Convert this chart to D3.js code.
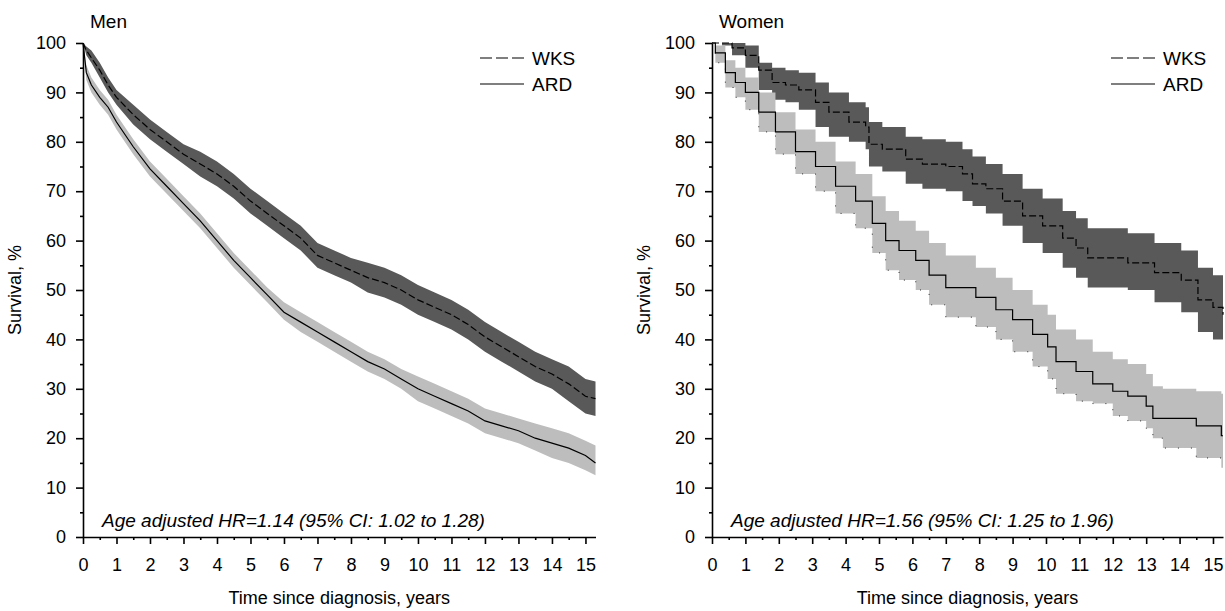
<!DOCTYPE html>
<html>
<head>
<meta charset="utf-8">
<script src="https://cdn.jsdelivr.net/npm/d3@7"></script>
<style>
  html, body { margin: 0; padding: 0; background: #fff; }
  svg text { font-family: "Liberation Sans", Arial, sans-serif; fill: #000; }
</style>
</head>
<body>
<svg id="chart" width="1225" height="611"></svg>
<script>
// Men: common time grid (years)
const menT = [0, 0.1, 0.25, 0.5, 0.75, 1, 1.5, 2, 2.5, 3, 3.5, 4, 4.5, 5, 5.5, 6, 6.5, 7, 7.5, 8, 8.5, 9, 9.5, 10, 10.5, 11, 11.5, 12, 12.5, 13, 13.5, 14, 14.5, 15, 15.3];
const menWks   = [100, 98.5, 97, 94.5, 91.5, 89, 85.5, 82.5, 80, 77.5, 75.5, 73.5, 71, 68, 65.5, 63, 60.5, 57, 55.5, 54, 52.5, 51.5, 50, 48, 46.5, 45, 43, 40.5, 38.5, 36.5, 34.5, 33, 31, 28.5, 28];
const menWksLo = [100, 97.5, 96, 93, 90, 87.5, 83.5, 80.5, 78, 75.5, 73, 71, 68.5, 65.5, 63, 60.5, 58, 54.5, 53, 51.5, 49.5, 48.5, 47, 45, 43.5, 42, 40, 37.5, 35.5, 33.5, 31.5, 30, 27.5, 25, 24.5];
const menWksHi = [100, 99.3, 98.5, 96, 93, 90.5, 87.5, 84.5, 82, 79.5, 78, 76, 73.5, 70.5, 68, 65.5, 63, 59.5, 58, 56.5, 55.5, 54.5, 53, 51, 49.5, 48, 46, 43.5, 41.5, 39.5, 37.5, 36, 34.5, 32, 31.5];
const menArd   = [100, 94, 91.5, 89, 87, 84, 79, 74.5, 71, 67.5, 64, 60, 56, 52.5, 49, 45.5, 43.5, 41.5, 39.5, 37.5, 35.5, 34, 32, 30, 28.5, 27, 25.5, 23.5, 22.5, 21.5, 20, 19, 18, 16.5, 15];
const menArdLo = [100, 92.5, 90, 87.5, 85.5, 82.5, 77.5, 73, 69.5, 66, 62.5, 58.5, 54.5, 51, 47.5, 44, 41.5, 39.5, 37.5, 35.5, 33.5, 32, 30, 27.5, 26, 24.5, 23, 21, 20, 19, 17.5, 16, 15, 13.5, 12.5];
const menArdHi = [100, 95.5, 93, 90.5, 88.5, 85.5, 80.5, 76, 72.5, 69, 65.5, 61.5, 57.5, 54, 50.5, 47.5, 45.5, 43.5, 41.5, 39.5, 37.5, 36, 34, 32.5, 31, 29.5, 28, 26, 25, 24, 23, 22, 21, 19.5, 18.5];

// Women: event times differ per group
const womWksT  = [0, 0.3, 0.6, 1, 1.4, 1.8, 2.2, 2.6, 3.1, 3.5, 4.1, 4.6, 4.7, 5.1, 5.8, 6.3, 7, 7.5, 7.8, 8.2, 8.7, 9.3, 9.9, 10.5, 10.9, 11.25, 12.45, 13.25, 14.05, 14.55, 15, 15.3];
const womWks   = [100, 100, 99, 97.5, 94.5, 92, 91.5, 90.5, 88, 86, 84, 83, 79.5, 78.5, 76.5, 75.5, 75, 73.5, 71.5, 70.5, 68, 65, 63, 60.5, 58.5, 56.5, 55.5, 53.5, 52, 48, 46.5, 45];
const womWksLo = [100, 99.5, 97.5, 95, 90.5, 88.5, 88, 86.5, 83, 81, 80, 78.5, 75, 74, 71.5, 70.5, 70, 68, 67, 65.5, 63, 59.5, 57.5, 54.5, 52.5, 50.5, 50, 47.5, 45.5, 41.5, 40, 38];
const womWksHi = [100, 100, 100, 99.5, 96, 95, 94.5, 94, 92, 90, 88, 87, 84, 83, 81, 80.5, 80, 78.5, 77, 75.5, 73.5, 70.5, 68.5, 66, 64.5, 62.5, 61.5, 59.5, 58, 54.5, 53, 52];
const womArdT  = [0, 0.1, 0.4, 0.7, 1, 1.4, 1.9, 2.5, 3.1, 3.7, 4.3, 4.8, 5.2, 5.6, 6.1, 6.5, 7, 7.9, 8.5, 9, 9.6, 10.05, 10.3, 10.9, 11.4, 12, 12.45, 13, 13.2, 13.5, 14.5, 15.25, 15.3];
const womArd   = [100, 98, 94, 92, 90, 86, 82, 78, 75, 71, 68, 63.5, 60, 58, 56, 53, 50.5, 48.5, 46, 44, 41, 38.5, 35.5, 33.5, 31, 29.5, 28.5, 26.5, 24, 24, 22.5, 20.5, 20.5];
const womArdLo = [100, 96, 91, 89, 86.5, 82, 77.5, 73.5, 70, 65.5, 62.5, 57.5, 54, 52, 50, 47, 44.5, 42.5, 40, 37.5, 34.5, 32, 29, 27.5, 27, 24.5, 23.5, 22, 20, 18, 16, 14, 14];
const womArdHi = [100, 99.5, 96.5, 95, 93, 90, 86, 82.5, 80, 76, 73.5, 69, 66, 64, 62, 59.5, 57, 54.5, 52.5, 50, 47, 45, 42, 40, 37.5, 36, 35, 33, 30.5, 30, 29.5, 29, 29];

const yTicks = [0, 10, 20, 30, 40, 50, 60, 70, 80, 90, 100];
const xTicks = [0, 1, 2, 3, 4, 5, 6, 7, 8, 9, 10, 11, 12, 13, 14, 15];

const zip = (t, s, lo, hi) => t.map((d, i) => ({ t: d, s: s[i], lo: lo[i], hi: hi[i] }));

const panels = [
  {
    title: "Men", left: 83, right: 595.5,
    wks: zip(menT, menWks, menWksLo, menWksHi),
    ard: zip(menT, menArd, menArdLo, menArdHi),
    curve: d3.curveLinear, dots: false,
    hr: "Age adjusted HR=1.14 (95% CI: 1.02 to 1.28)",
    legendX: 480
  },
  {
    title: "Women", left: 712, right: 1223,
    wks: zip(womWksT, womWks, womWksLo, womWksHi),
    ard: zip(womArdT, womArd, womArdLo, womArdHi),
    curve: d3.curveStepAfter, dots: true,
    hr: "Age adjusted HR=1.56 (95% CI: 1.25 to 1.96)",
    legendX: 1111
  }
];

const svg = d3.select("#chart");
const yTop = 43, yBottom = 537;
const fs = "18px", fsBig = "19px";

panels.forEach(p => {
  const x = d3.scaleLinear().domain([0, 15.3]).range([p.left, p.right]);
  const y = d3.scaleLinear().domain([0, 100]).range([yBottom, yTop]);
  const g = svg.append("g");

  const area = d3.area().curve(p.curve)
    .x(d => x(d.t)).y0(d => y(d.lo)).y1(d => y(d.hi));
  const line = d3.line().curve(p.curve)
    .x(d => x(d.t)).y(d => y(d.s));

  g.append("path").datum(p.wks).attr("d", area).attr("fill", "#595959");
  g.append("path").datum(p.ard).attr("d", area).attr("fill", "#bdbdbd");

  if (p.dots) {
    g.append("path").datum(p.ard)
      .attr("d", d3.line().curve(p.curve).x(d => x(d.t)).y(d => y(d.lo)))
      .attr("fill", "none").attr("stroke", "#000").attr("stroke-width", 0.8)
      .attr("stroke-dasharray", "1,12");
  }

  g.append("path").datum(p.wks).attr("d", line)
    .attr("fill", "none").attr("stroke", "#000").attr("stroke-width", 1.2)
    .attr("stroke-dasharray", "7,3");
  g.append("path").datum(p.ard).attr("d", line)
    .attr("fill", "none").attr("stroke", "#000").attr("stroke-width", 1.2);

  // y axis
  g.append("g").attr("transform", `translate(${p.left},0)`)
    .call(d3.axisLeft(y).tickValues(yTicks).tickSize(7).tickSizeOuter(0).tickPadding(10));
  g.append("g").attr("transform", `translate(${p.left},0)`)
    .call(d3.axisLeft(y).tickValues(d3.range(5, 100, 10)).tickSize(3).tickFormat(""))
    .call(a => a.select(".domain").remove());

  // x axis
  g.append("g").attr("transform", `translate(0,${yBottom})`)
    .call(d3.axisBottom(x).tickValues(xTicks).tickSize(7).tickSizeOuter(0).tickPadding(14));
  g.append("g").attr("transform", `translate(0,${yBottom})`)
    .call(d3.axisBottom(x).tickValues(d3.range(0.5, 15, 1)).tickSize(3).tickFormat(""))
    .call(a => a.select(".domain").remove());

  g.selectAll(".domain, .tick line").attr("stroke", "#000").attr("stroke-width", 1.6);
  g.selectAll(".tick text").style("font-size", fs).attr("font-family", null);

  // titles
  g.append("text").attr("x", p.left + 7).attr("y", 28).style("font-size", fsBig).text(p.title);
  g.append("text").attr("x", (p.left + p.right) / 2).attr("y", 604)
    .attr("text-anchor", "middle").style("font-size", fs).text("Time since diagnosis, years");
  g.append("text").attr("transform", `translate(${p.left - 62},290) rotate(-90)`)
    .attr("text-anchor", "middle").style("font-size", fs).text("Survival, %");
  g.append("text").attr("x", p.left + 19).attr("y", 527)
    .style("font-size", fsBig).style("font-style", "italic").text(p.hr);

  // legend
  const lg = g.append("g");
  [["WKS", "12,4", 58], ["ARD", null, 84]].forEach(([name, dash, ly]) => {
    lg.append("line").attr("x1", p.legendX).attr("x2", p.legendX + 44)
      .attr("y1", ly).attr("y2", ly).attr("stroke", "#000").attr("stroke-width", 1.2)
      .attr("stroke-dasharray", dash);
    lg.append("text").attr("x", p.legendX + 52).attr("y", ly + 7)
      .style("font-size", fsBig).text(name);
  });
});
</script>
</body>
</html>
